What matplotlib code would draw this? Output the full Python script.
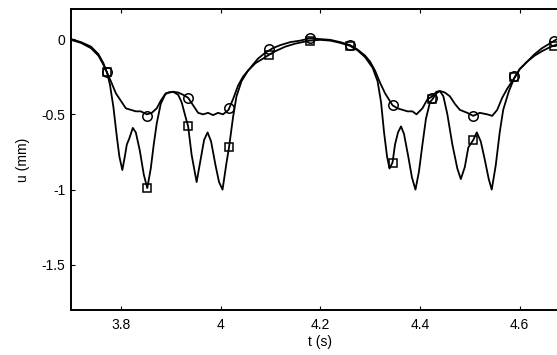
import matplotlib
matplotlib.use("Agg")
import matplotlib.pyplot as plt

plt.rcParams['font.family'] = ['Liberation Sans', 'DejaVu Sans']

# shallow response (circle markers)
t_a = [3.700, 3.720, 3.740, 3.755, 3.765, 3.772, 3.780, 3.790, 3.800, 3.810,
       3.820, 3.830, 3.840, 3.852, 3.862, 3.872, 3.880, 3.888, 3.895, 3.905,
       3.915, 3.925, 3.935, 3.945, 3.955, 3.965, 3.975, 3.985, 3.995, 4.005,
       4.016, 4.025, 4.035, 4.045, 4.060, 4.075, 4.090, 4.105, 4.120, 4.140,
       4.160, 4.179, 4.200, 4.220, 4.240, 4.260, 4.275, 4.290, 4.300, 4.310,
       4.320, 4.330, 4.345, 4.355, 4.365, 4.375, 4.385, 4.393, 4.405, 4.415,
       4.425, 4.433, 4.440, 4.450, 4.460, 4.470, 4.480, 4.495, 4.507, 4.520,
       4.535, 4.545, 4.555, 4.565, 4.575, 4.589, 4.600, 4.615, 4.630, 4.645,
       4.660, 4.675, 4.700]
u_a = [-0.00, -0.02, -0.05, -0.10, -0.16, -0.22, -0.28, -0.36, -0.41, -0.46,
       -0.47, -0.48, -0.48, -0.50, -0.49, -0.46, -0.41, -0.37, -0.355, -0.35,
       -0.355, -0.37, -0.39, -0.44, -0.49, -0.50, -0.49, -0.505, -0.49, -0.50,
       -0.47, -0.40, -0.31, -0.25, -0.19, -0.13, -0.09, -0.06, -0.04, -0.02,
       -0.01, 0.005, 0.00, -0.005, -0.02, -0.04, -0.07, -0.11, -0.15, -0.21,
       -0.29, -0.36, -0.44, -0.46, -0.47, -0.48, -0.48, -0.50, -0.46, -0.40,
       -0.38, -0.35, -0.345, -0.355, -0.38, -0.43, -0.47, -0.49, -0.51, -0.49,
       -0.50, -0.51, -0.47, -0.39, -0.33, -0.26, -0.20, -0.15, -0.10, -0.06,
       -0.03, -0.00, 0.02]

# deep response (square markers)
t_b = [3.700, 3.720, 3.740, 3.755, 3.765, 3.772, 3.778, 3.785, 3.792, 3.797,
       3.803, 3.808, 3.812, 3.817, 3.824, 3.830, 3.838, 3.846, 3.853, 3.860,
       3.866, 3.872, 3.880, 3.890, 3.905, 3.915, 3.922, 3.930, 3.935, 3.942,
       3.952, 3.960, 3.967, 3.974, 3.981, 3.990, 3.997, 4.004, 4.012, 4.017,
       4.025, 4.032, 4.042, 4.055, 4.070, 4.085, 4.097, 4.110, 4.130, 4.150,
       4.179, 4.200, 4.220, 4.240, 4.260, 4.275, 4.290, 4.305, 4.315, 4.322,
       4.328, 4.334, 4.339, 4.345, 4.350, 4.356, 4.362, 4.368, 4.376, 4.384,
       4.391, 4.398, 4.405, 4.412, 4.420, 4.425, 4.433, 4.440, 4.447, 4.455,
       4.465, 4.475, 4.482, 4.490, 4.497, 4.507, 4.514, 4.522, 4.530, 4.538,
       4.544, 4.552, 4.560, 4.567, 4.578, 4.589, 4.600, 4.615, 4.630, 4.645,
       4.660, 4.675, 4.700]
u_b = [-0.005, -0.025, -0.06, -0.11, -0.17, -0.22, -0.30, -0.45, -0.65, -0.78,
       -0.87, -0.78, -0.70, -0.66, -0.59, -0.62, -0.74, -0.90, -0.99, -0.86,
       -0.70, -0.56, -0.43, -0.36, -0.35, -0.37, -0.42, -0.52, -0.58, -0.77,
       -0.95, -0.80, -0.67, -0.62, -0.68, -0.84, -0.95, -1.00, -0.82, -0.72,
       -0.52, -0.38, -0.28, -0.21, -0.16, -0.13, -0.105, -0.08, -0.05, -0.03,
       -0.01, -0.005, -0.01, -0.025, -0.045, -0.075, -0.12, -0.19, -0.28, -0.42,
       -0.62, -0.78, -0.86, -0.82, -0.70, -0.62, -0.58, -0.63, -0.77, -0.92,
       -1.00, -0.88, -0.70, -0.53, -0.42, -0.40, -0.36, -0.345, -0.38, -0.50,
       -0.70, -0.86, -0.93, -0.85, -0.72, -0.67, -0.62, -0.68, -0.80, -0.93,
       -1.00, -0.84, -0.62, -0.47, -0.35, -0.26, -0.20, -0.15, -0.11, -0.08,
       -0.055, -0.035, -0.01]

# marker samples
t_m = [3.772, 3.853, 3.935, 4.016, 4.097, 4.179, 4.260, 4.345, 4.425, 4.507, 4.589, 4.668]
u_m_a = [-0.22, -0.51, -0.39, -0.46, -0.067, 0.007, -0.04, -0.44, -0.39, -0.51, -0.245, -0.011]
u_m_b = [-0.22, -0.99, -0.575, -0.715, -0.105, -0.011, -0.045, -0.82, -0.40, -0.67, -0.25, -0.045]

xticks = [3.8, 4.0, 4.2, 4.4, 4.6]
xticklabels = ['3.8', '4', '4.2', '4.4', '4.6']
yticks = [0, -0.5, -1, -1.5]
yticklabels = ['0', '-0.5', '-1', '-1.5']

fig = plt.figure(figsize=(5.57, 3.55), dpi=100)
ax = fig.add_axes([71/557, 45/355, 498.5/557, 301/355])

ax.plot(t_a, u_a, color='black', lw=1.3)
ax.plot(t_b, u_b, color='black', lw=1.3)
ax.plot(t_m, u_m_a, linestyle='none', marker='o', ms=6.8, mfc='none', mec='black', mew=1.1)
ax.plot(t_m, u_m_b, linestyle='none', marker='s', ms=6.3, mfc='none', mec='black', mew=1.1)

ax.set_xlim(3.7, 4.7)
ax.set_ylim(-1.8, 0.2)
ax.set_xticks(xticks)
ax.set_xticklabels(xticklabels)
ax.set_yticks(yticks)
ax.set_yticklabels(yticklabels)
ax.tick_params(axis='both', direction='in', top=True, right=True, length=3, width=0.8,
               labelsize=10, colors='black')
ax.tick_params(axis='x', pad=5.5)
ax.tick_params(axis='y', pad=4)
for s in ax.spines.values():
    s.set_linewidth(1.4)

ax.set_xlabel('t (s)', fontsize=10, labelpad=2.5)
ax.set_ylabel('u (mm)', fontsize=10, labelpad=8)

fig.savefig('out.png', dpi=100)
